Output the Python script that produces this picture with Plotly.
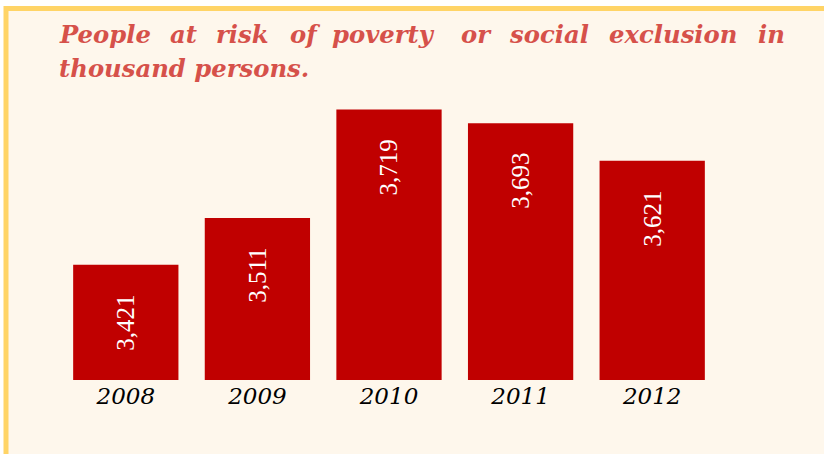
import plotly.graph_objects as go

# Data
years = ["2008", "2009", "2010", "2011", "2012"]
persons_thousands = [3421, 3511, 3719, 3693, 3621]

title_line1 = ["People", "at", "risk", "of", "poverty", "or", "social", "exclusion", "in"]
title_line2 = "thousand persons."

# Layout constants
W, H = 824, 454
ML, MR, MT, MB = 60, 106, 95, 74
PW, PH = W - ML - MR, H - MT - MB

BAR_RED = "#C00000"
TITLE_RED = "#D6514A"
CREAM = "#FEF7EC"
GOLD = "#FFD466"


def px_x(x):
    return (x - ML) / PW


def px_y(y):
    return (H - MB - y) / PH


fig = go.Figure()
fig.add_trace(go.Bar(
    x=list(range(len(years))),
    y=persons_thousands,
    marker=dict(color=BAR_RED, line=dict(width=0)),
    width=0.8,
    hovertext=years,
))

annotations = []
# Value labels, rotated, near the top of each bar
for i, v in enumerate(persons_thousands):
    annotations.append(dict(
        x=i, y=v, xref="x", yref="y",
        text=f"{v:,}", showarrow=False, textangle=-90,
        xanchor="center", yanchor="top", yshift=-28,
        font=dict(family="Liberation Serif", size=25, color="white"),
    ))

# Justified first title line: word left edges
word_left = [57, 168, 214, 288, 330, 459, 507, 607, 756]
title_font = dict(family="DejaVu Serif", size=24.3, color=TITLE_RED,
                  weight="bold", style="italic")
for w, xl in zip(title_line1, word_left):
    annotations.append(dict(
        x=px_x(xl), y=px_y(34), xref="paper", yref="paper",
        text=w, showarrow=False, xanchor="left", yanchor="middle",
        font=title_font,
    ))
annotations.append(dict(
    x=px_x(57), y=px_y(69), xref="paper", yref="paper",
    text=title_line2, showarrow=False, xanchor="left", yanchor="middle",
    font=title_font,
))

# Cream panel with gold frame
shapes = [dict(
    type="rect", xref="paper", yref="paper", layer="below",
    x0=px_x(6), x1=px_x(840), y0=px_y(470), y1=px_y(8.5),
    fillcolor=CREAM, line=dict(color=GOLD, width=5),
)]

fig.update_layout(
    width=W, height=H,
    margin=dict(l=ML, r=MR, t=MT, b=MB, pad=0),
    paper_bgcolor="white",
    plot_bgcolor="rgba(0,0,0,0)",
    showlegend=False,
    annotations=annotations,
    shapes=shapes,
    xaxis=dict(
        range=[-0.5, len(years) - 0.5],
        tickmode="array", tickvals=list(range(len(years))), ticktext=years,
        showgrid=False, zeroline=False, showline=False, ticks="",
        tickfont=dict(family="DejaVu Serif", size=23, color="black",
                      style="italic"),
    ),
    yaxis=dict(
        range=[3200, 3747], visible=False, showgrid=False, zeroline=False,
    ),
)

fig.write_html("out.html")
